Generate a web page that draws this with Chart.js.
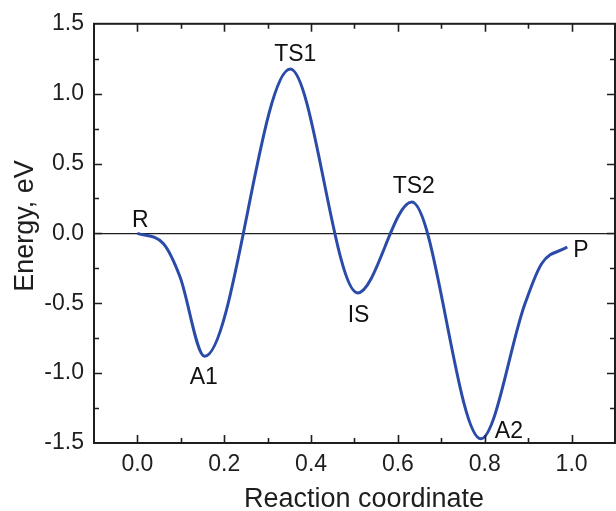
<!DOCTYPE html>
<html>
<head>
<meta charset="utf-8">
<script src="https://cdn.jsdelivr.net/npm/chart.js@4.4.1/dist/chart.umd.min.js"></script>
<style>
  html, body { margin: 0; padding: 0; background: #fff; }
  #wrap { width: 616px; height: 511px; }
</style>
</head>
<body>
<div id="wrap"><canvas id="energyChart"></canvas></div>
<script>
// points (reaction coordinate, energy in eV)
var coord = [0, 0.06, 0.098, 0.155, 0.352, 0.507, 0.632, 0.791, 0.893, 0.931, 0.99];
var energy = [0, -0.074, -0.31, -0.88, 1.176, -0.426, 0.224, -1.47, -0.5, -0.217, -0.098];

// stationary points and the index of the point they name
var stateNames = ['R', 'A1', 'TS1', 'IS', 'TS2', 'A2', 'P'];
var stateIndex = [0, 3, 4, 5, 6, 7, 10];

var xTicks = [0, 0.2, 0.4, 0.6, 0.8, 1.0];
var yTicks = [-1.5, -1.0, -0.5, 0, 0.5, 1.0, 1.5];

var xTitle = 'Reaction coordinate';
var yTitle = 'Energy, eV';

var points = coord.map(function(x, i) { return { x: x, y: energy[i] }; });

var FONT = 'Liberation Sans, Arial, sans-serif';
var INK = '#1e1e1e';

// label placement relative to its point: dx, dy (baseline), alignment
var labelStyle = {
  R:   [3, -6, 'center'],
  A1:  [-1, 28, 'center'],
  TS1: [5, -8, 'center'],
  IS:  [1, 29, 'center'],
  TS2: [2, -9, 'center'],
  A2:  [14, -1, 'left'],
  P:   [6, 10, 'left']
};

var frameAndLabels = {
  id: 'frameAndLabels',
  afterDatasetsDraw: function(chart) {
    var c = chart.ctx;
    var a = chart.chartArea;
    var xs = chart.scales.x, ys = chart.scales.y;
    c.save();
    c.strokeStyle = INK;
    c.lineWidth = 2;
    c.strokeRect(a.left, a.top, a.right - a.left, a.bottom - a.top);

    // inward ticks on all four sides
    c.beginPath();
    for (var v = -0.1; v <= 1.1001; v += 0.1) {
      var px = Math.round(xs.getPixelForValue(v)) + 0.5;
      if (px <= a.left + 1 || px >= a.right - 1) continue;
      var major = Math.abs(Math.round(v * 10) % 2) === 0;
      var len = major ? 8 : 5;
      c.moveTo(px, a.bottom); c.lineTo(px, a.bottom - len);
      c.moveTo(px, a.top); c.lineTo(px, a.top + len);
    }
    for (var w = -1.5; w <= 1.5001; w += 0.25) {
      var py = Math.round(ys.getPixelForValue(w)) + 0.5;
      if (py <= a.top + 1 || py >= a.bottom - 1) continue;
      var maj = Math.abs(Math.round(w * 4) % 2) === 0;
      var l = maj ? 8 : 5;
      c.moveTo(a.left, py); c.lineTo(a.left + l, py);
      c.moveTo(a.right, py); c.lineTo(a.right - l, py);
    }
    c.lineWidth = 1.6;
    c.stroke();

    // state labels
    c.fillStyle = '#111';
    c.font = '23px ' + FONT;
    c.textBaseline = 'alphabetic';
    stateNames.forEach(function(name, k) {
      var p = points[stateIndex[k]];
      var st = labelStyle[name];
      c.textAlign = st[2];
      c.fillText(name, xs.getPixelForValue(p.x) + st[0], ys.getPixelForValue(p.y) + st[1]);
    });

    // axis titles
    c.fillStyle = INK;
    c.font = '27px ' + FONT;
    c.textAlign = 'center';
    c.fillText(xTitle, 364, 507);
    c.translate(33, 226);
    c.rotate(-Math.PI / 2);
    c.fillText(yTitle, 0, 0);
    c.restore();
  }
};

var ctx = document.getElementById('energyChart').getContext('2d');

var energyChart = new Chart(ctx, {
  type: 'line',
  data: {
    datasets: [{
      label: 'Energy',
      data: points,
      borderColor: '#2a4ba8',
      borderWidth: 3,
      pointRadius: 0,
      fill: false,
      cubicInterpolationMode: 'monotone'
    }]
  },
  options: {
    responsive: true,
    maintainAspectRatio: false,
    animation: false,
    layout: { padding: { top: 23, right: 1, left: 0, bottom: 0 } },
    plugins: {
      legend: { display: false },
      tooltip: { enabled: false }
    },
    scales: {
      x: {
        type: 'linear',
        min: -0.1,
        max: 1.1,
        afterBuildTicks: function(scale) {
          scale.ticks = xTicks.map(function(v) { return { value: v }; });
        },
        afterFit: function(scale) { scale.height = 68; },
        grid: { display: false, drawTicks: false },
        border: { display: false },
        ticks: {
          color: INK,
          padding: 8,
          maxRotation: 0,
          autoSkip: false,
          font: { family: FONT, size: 23 },
          callback: function(v) { return Number(v).toFixed(1); }
        }
      },
      y: {
        min: -1.5,
        max: 1.5,
        afterBuildTicks: function(scale) {
          scale.ticks = yTicks.map(function(v) { return { value: v }; });
        },
        afterFit: function(scale) { scale.width = 94; },
        grid: {
          drawTicks: false,
          lineWidth: 1.3,
          color: function(c) { return c.tick && c.tick.value === 0 ? INK : 'rgba(0,0,0,0)'; }
        },
        border: { display: false },
        ticks: {
          color: INK,
          padding: 10,
          font: { family: FONT, size: 23 },
          callback: function(v) { return Number(v).toFixed(1); }
        }
      }
    }
  },
  plugins: [frameAndLabels]
});
</script>
</body>
</html>
